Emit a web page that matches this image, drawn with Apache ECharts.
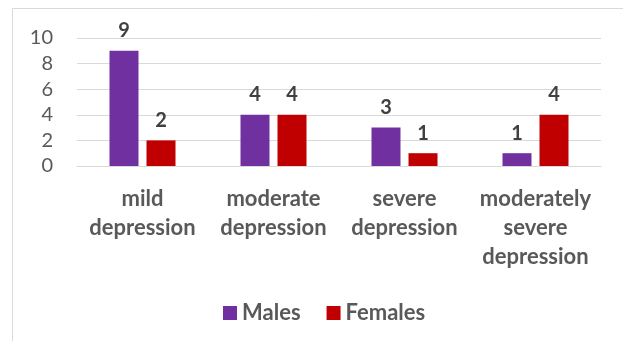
<!DOCTYPE html>
<html>
<head>
<meta charset="utf-8">
<script src="https://cdn.jsdelivr.net/npm/echarts@6/dist/echarts.min.js"></script>
<style>
  html, body { margin: 0; padding: 0; background: #ffffff; }
  #chart { width: 623px; height: 341px; }
</style>
</head>
<body>
<div id="chart"></div>
<script>
// Depression severity by sex
const categories = ['mild\ndepression', 'moderate\ndepression', 'severe\ndepression', 'moderately\nsevere\ndepression'];
const males = [9, 4, 3, 1];
const females = [2, 4, 1, 4];
const yTicks = { min: 0, max: 10, interval: 2 };

const FONT = 'Lato, "Open Sans", sans-serif';
const TEXT_GRAY = '#595959';
const GRID_GRAY = '#d9d9d9';

const chart = echarts.init(document.getElementById('chart'), null, { renderer: 'canvas' });

const valueLabel = {
  show: true,
  position: 'top',
  distance: 10,
  color: '#404040',
  fontFamily: FONT,
  fontWeight: 'bold',
  fontSize: 20
};

chart.setOption({
  animation: false,
  backgroundColor: '#ffffff',
  graphic: [{
    type: 'rect',
    shape: { x: 12.5, y: 8.5, width: 700, height: 400 },
    style: { fill: 'none', stroke: GRID_GRAY, lineWidth: 1 },
    silent: true,
    z: -10
  }],
  grid: { left: 77, right: 22, top: 38, bottom: 175, containLabel: false },
  legend: {
    left: 218,
    top: 297,
    itemWidth: 14,
    itemHeight: 14,
    itemGap: 26,
    icon: 'rect',
    textStyle: { color: TEXT_GRAY, fontFamily: FONT, fontWeight: 'bold', fontSize: 22, padding: [0, 0, 0, 0] },
    data: ['Males', 'Females']
  },
  xAxis: {
    type: 'category',
    data: categories,
    axisLine: { show: true, lineStyle: { color: GRID_GRAY, width: 1 } },
    axisTick: { show: false },
    axisLabel: {
      color: TEXT_GRAY,
      fontFamily: FONT,
      fontWeight: 'bold',
      fontSize: 22,
      lineHeight: 29,
      margin: 18,
      interval: 0
    }
  },
  yAxis: {
    type: 'value',
    min: yTicks.min,
    max: yTicks.max,
    interval: yTicks.interval,
    axisLine: { show: false },
    axisTick: { show: false },
    splitLine: { lineStyle: { color: GRID_GRAY, width: 1 } },
    axisLabel: { color: TEXT_GRAY, fontFamily: FONT, fontSize: 20, margin: 24 }
  },
  series: [
    {
      name: 'Males',
      type: 'bar',
      data: males,
      barWidth: 29,
      barGap: '27.6%',
      itemStyle: { color: '#7030A0' },
      label: valueLabel
    },
    {
      name: 'Females',
      type: 'bar',
      data: females,
      barWidth: 29,
      itemStyle: { color: '#C00000' },
      label: valueLabel
    }
  ]
});
</script>
</body>
</html>
